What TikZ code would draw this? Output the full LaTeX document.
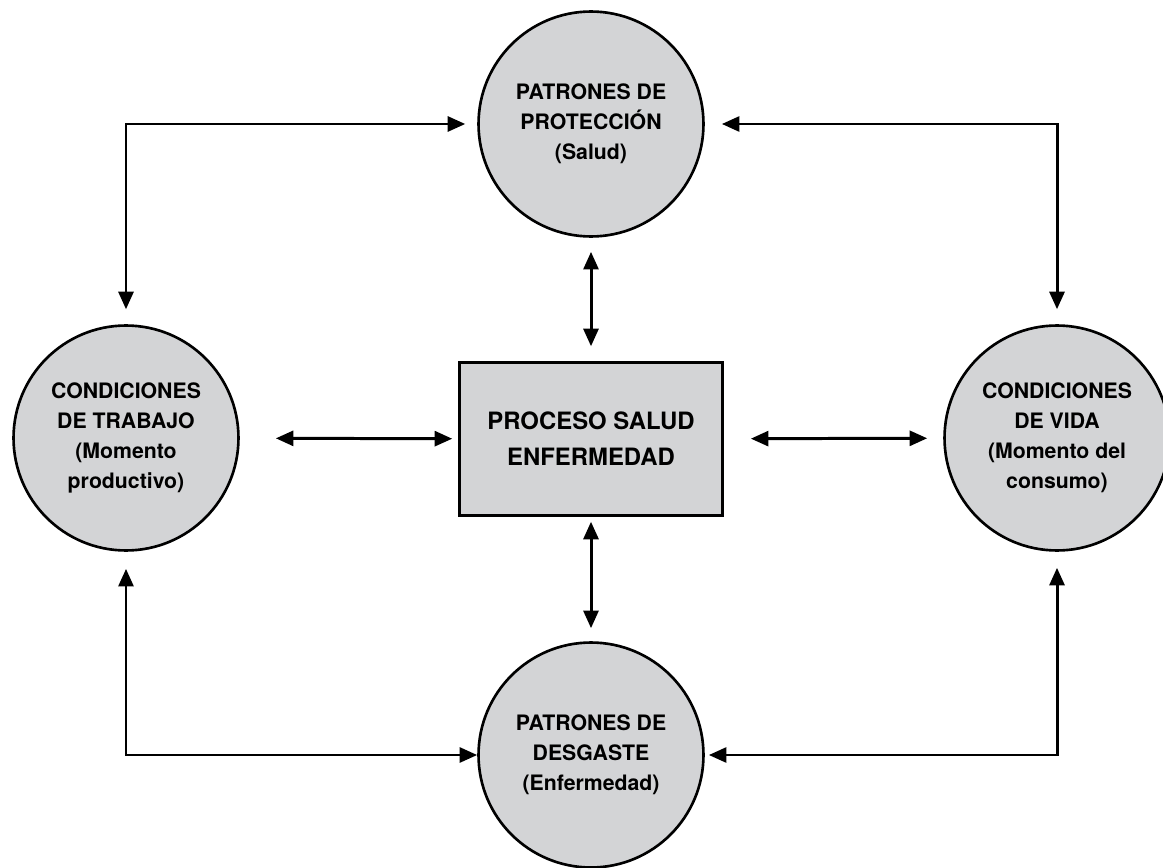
\documentclass[tikz,border=0pt]{standalone}
\usepackage{fontspec}
\setmainfont{TeX Gyre Heros}
\usetikzlibrary{arrows.meta}

\definecolor{discgray}{RGB}{211,212,214}

\begin{document}
\begin{tikzpicture}[
  x=0.02cm,
  y=0.02cm,
  disc/.style={circle,fill=discgray,draw=black,line width=1.5pt,minimum size=4.5cm,inner sep=0pt,align=center,font=\fontsize{12.1}{17}\selectfont\bfseries},
  box/.style={rectangle,fill=discgray,draw=black,line width=1.5pt,minimum width=5.26cm,minimum height=3.06cm,align=center,font=\fontsize{13.6}{20.5}\selectfont\bfseries},
  con/.style={{Triangle[length=10pt,width=8.5pt]}-{Triangle[length=10pt,width=8.5pt]},line width=1.7pt}
]
\useasboundingbox (0,0) rectangle (1163,867);
\node[disc] (prot) at (591,743) {PATRONES DE\\PROTECCIÓN\\(Salud)};
\node[disc] (trab) at (126,429) {CONDICIONES\\DE TRABAJO\\(Momento\\productivo)};
\node[disc] (vida) at (1057,429) {CONDICIONES\\DE VIDA\\(Momento del\\consumo)};
\node[disc] (desg) at (591,112) {PATRONES DE\\DESGASTE\\(Enfermedad)};
\node[box] (proc) at (591,428) {PROCESO SALUD\\ENFERMEDAD};
\draw[con,shorten <=6.8pt,shorten >=8.5pt] (prot) -| (trab);
\draw[con,shorten <=9.7pt,shorten >=8.5pt] (prot) -| (vida);
\draw[con,shorten <=9.7pt] (trab) |- (desg);
\draw[con,shorten <=9.1pt,shorten >=2.3pt] (vida) |- (desg);
\draw[con,shorten <=8.5pt,shorten >=8pt] (proc) -- (prot);
\draw[con,shorten <=2.8pt,shorten >=7.4pt] (proc) -- (desg);
\draw[con,shorten <=20.5pt,shorten >=3.4pt] (trab) -- (proc);
\draw[con,shorten <=15.4pt,shorten >=9.1pt] (proc) -- (vida);
\end{tikzpicture}
\end{document}
